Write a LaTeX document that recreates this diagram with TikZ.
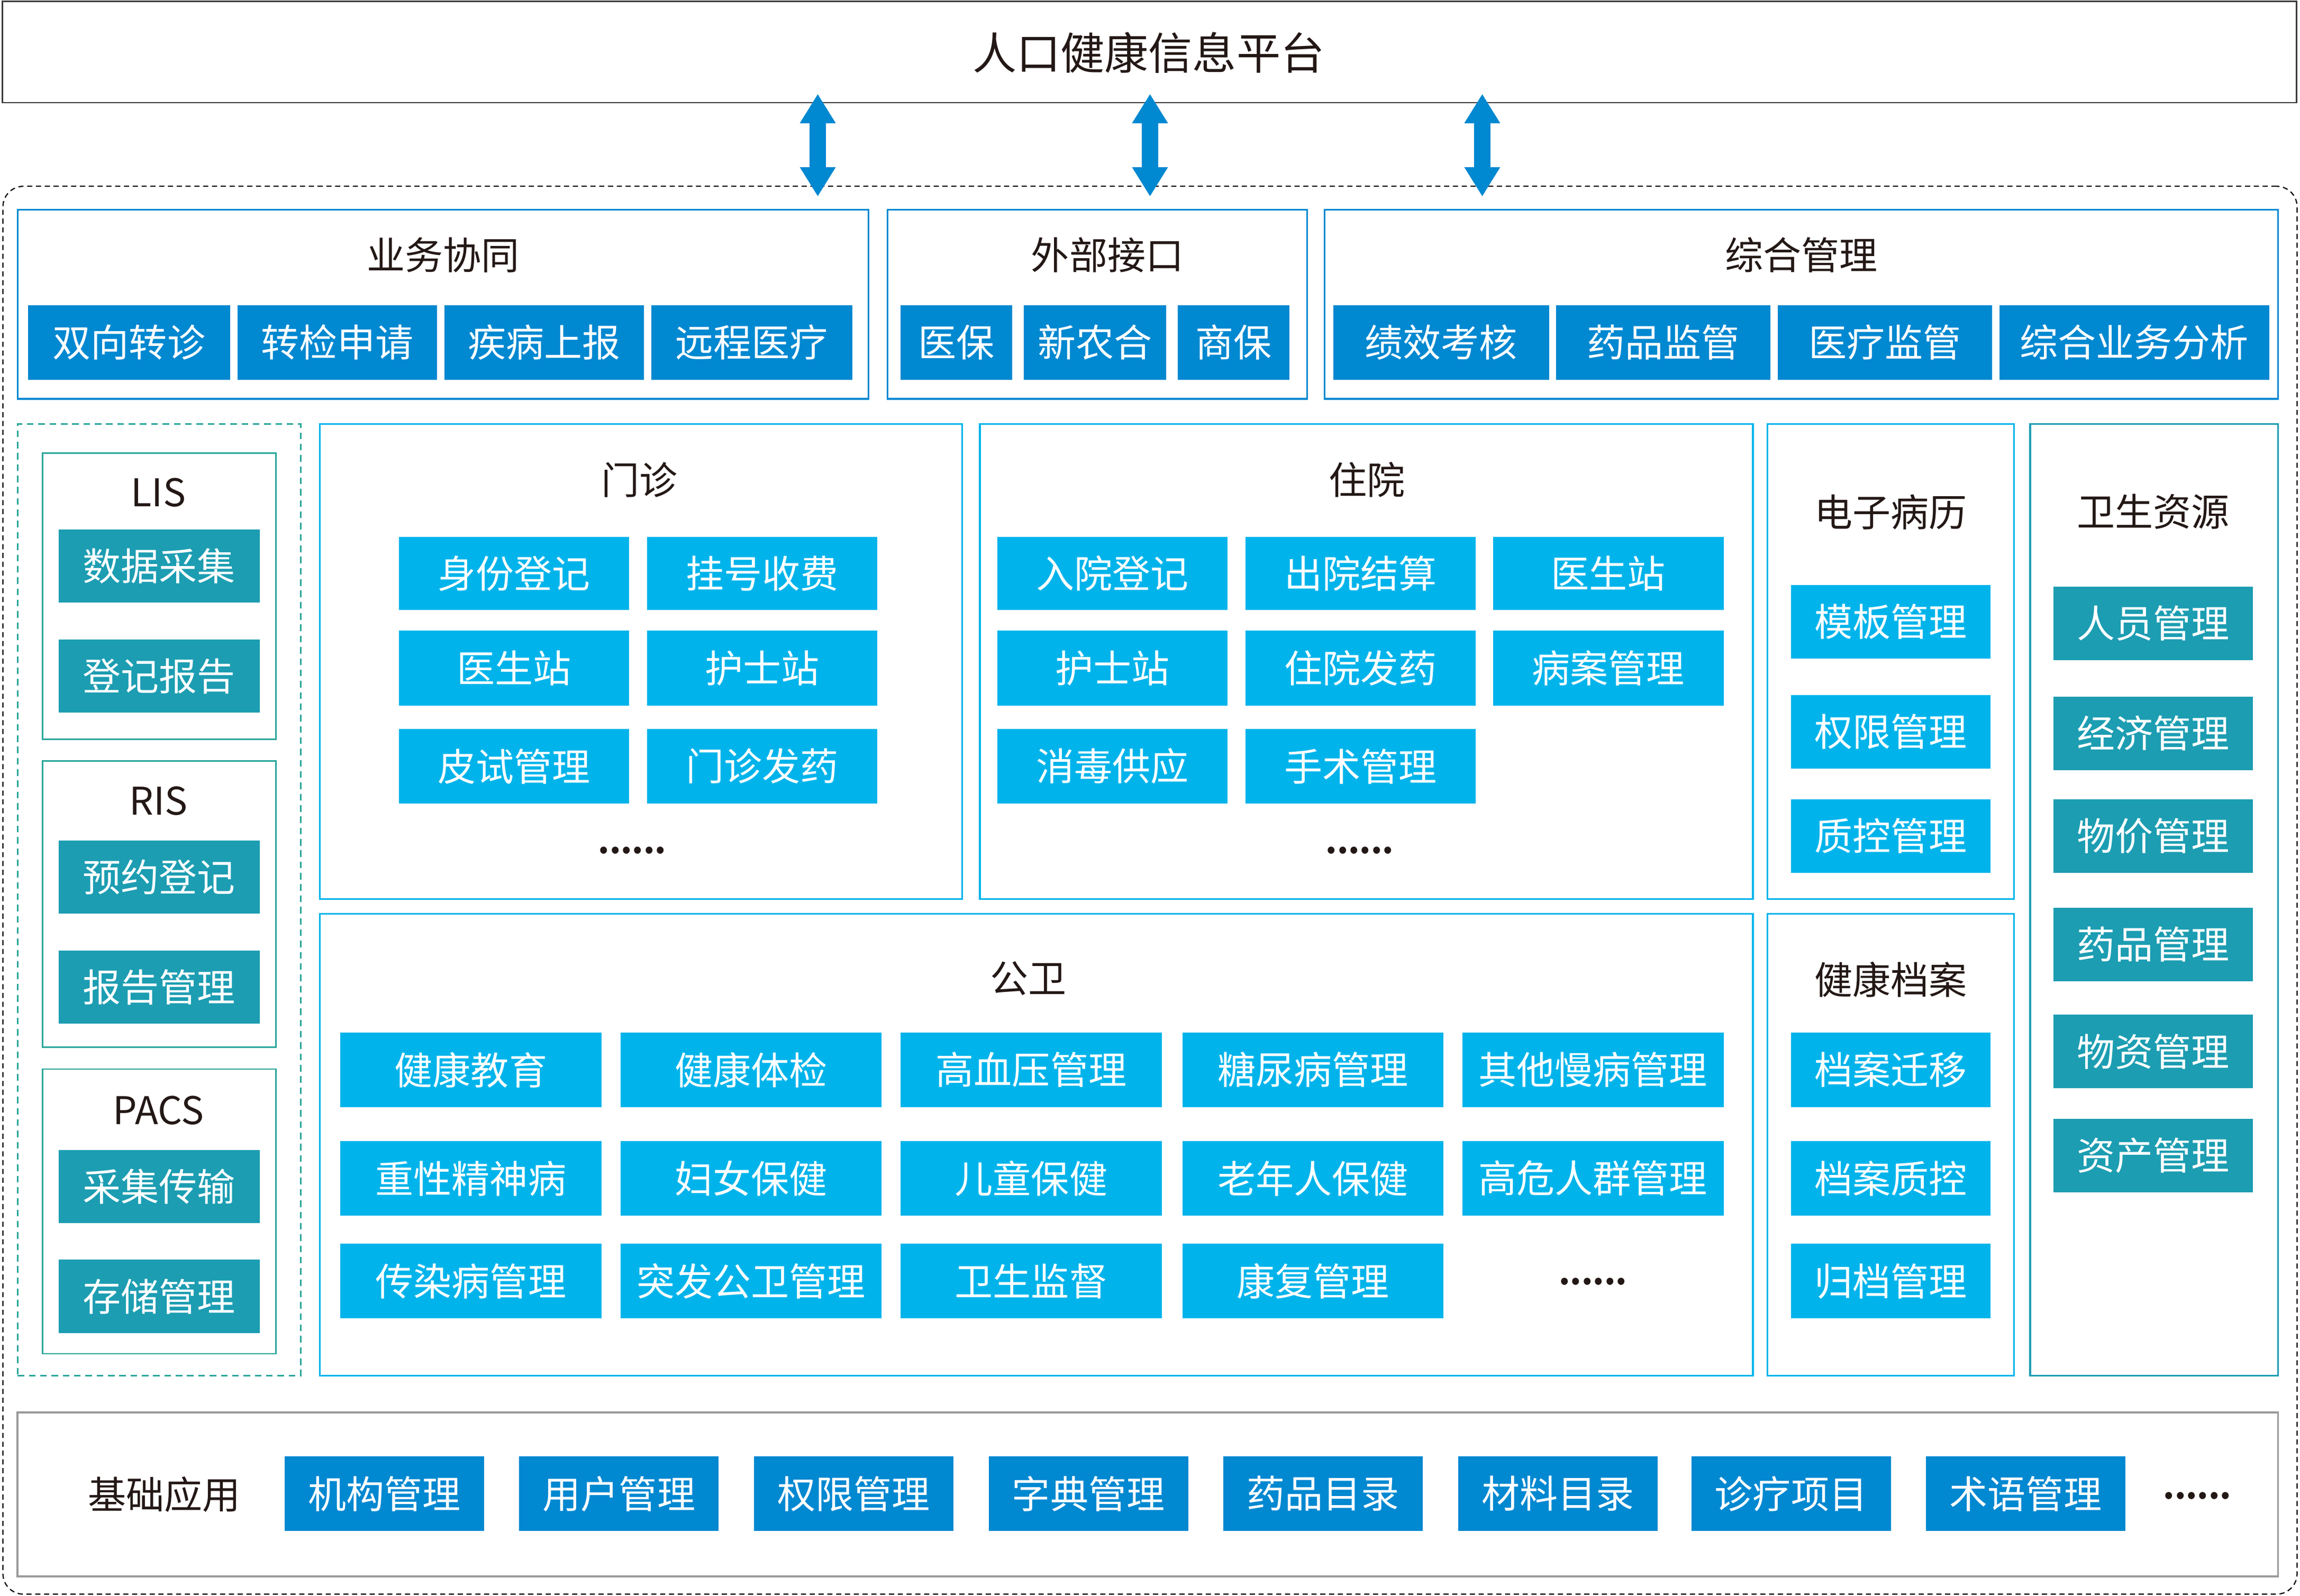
\documentclass[tikz,border=0pt]{standalone}
\usepackage{fontspec}
\setmainfont{Noto Sans CJK SC}
\usetikzlibrary{arrows.meta}
\definecolor{cDark}{HTML}{0088D1}
\definecolor{cCyan}{HTML}{00B4EB}
\definecolor{cTeal}{HTML}{1C9DB2}
\definecolor{cGreen}{HTML}{2AA69A}
\definecolor{cGray}{HTML}{9A9A9A}
\definecolor{cText}{HTML}{231815}
\definecolor{cFrame}{HTML}{3A3A3A}
\tikzset{
  itm/.style={rectangle,inner sep=0pt,outer sep=0pt,text=white,font=\fontsize{26}{30}\selectfont},
  grp/.style={rectangle,inner sep=0pt,outer sep=0pt,draw,line width=1.2pt},
  ttl/.style={inner sep=0pt,text=cText,font=\fontsize{26}{30}\selectfont},
  dots/.style={inner sep=0pt,text=cText,font=\bfseries\fontsize{22}{26}\selectfont},
  bigarrow/.style={draw=cDark,line width=11pt,{Triangle[length=20pt,width=23pt]}-{Triangle[length=20pt,width=23pt]}}
}
\newcommand\myitem[7]{\node[itm,fill=#6,minimum width={#4pt-#2pt},minimum height={#5pt-#3pt}] (#1) at ({(#2+#4)/2},{(#3+#5)/2}) {#7};}
\newcommand\mybox[6]{\node[grp,#6,minimum width={#4pt-#2pt},minimum height={#5pt-#3pt}] (#1) at ({(#2+#4)/2},{(#3+#5)/2}) {};}
\begin{document}
\begin{tikzpicture}[x=1pt,y=-1pt]
\useasboundingbox (0,0) rectangle (1568,1088);
% top platform
\node[rectangle,draw=cFrame,line width=1pt,inner sep=0pt,minimum width=1564pt,minimum height=69pt] (top) at (783.5,35.5) {};
\node[ttl,font=\fontsize{30}{34}\selectfont] (toptxt) at (783,36) {人口健康信息平台};
% outer dashed frame
\node[rectangle,draw=black,line width=0.8pt,dash pattern=on 3.5pt off 2.5pt,rounded corners=14pt,inner sep=0pt,minimum width=1564pt,minimum height=960pt] (outer) at (784,607) {};
% arrows
\coordinate (a1t) at (557.5,64); \coordinate (a1b) at (557.5,134);
\coordinate (a2t) at (784,64); \coordinate (a2b) at (784,134);
\coordinate (a3t) at (1010.5,64); \coordinate (a3b) at (1010.5,134);
\draw[bigarrow] (a1t) -- (a1b);
\draw[bigarrow] (a2t) -- (a2b);
\draw[bigarrow] (a3t) -- (a3b);
% 业务协同
\mybox{ywxt}{12}{143}{592}{272}{draw=cDark}
\node[ttl] (ywxtt) at (302,174) {业务协同};
\myitem{y1}{19}{208}{157}{259}{cDark}{双向转诊}
\myitem{y2}{162}{208}{298}{259}{cDark}{转检申请}
\myitem{y3}{303}{208}{439}{259}{cDark}{疾病上报}
\myitem{y4}{444}{208}{581}{259}{cDark}{远程医疗}
% 外部接口
\mybox{wbjk}{605}{143}{891}{272}{draw=cDark}
\node[ttl] (wbjkt) at (755,174) {外部接口};
\myitem{w1}{614}{208}{690}{259}{cDark}{医保}
\myitem{w2}{698}{208}{795}{259}{cDark}{新农合}
\myitem{w3}{803}{208}{879}{259}{cDark}{商保}
% 综合管理
\mybox{zhgl}{903}{143}{1553}{272}{draw=cDark}
\node[ttl] (zhglt) at (1228,174) {综合管理};
\myitem{z1}{909}{208}{1056}{259}{cDark}{绩效考核}
\myitem{z2}{1061}{208}{1207}{259}{cDark}{药品监管}
\myitem{z3}{1212}{208}{1358}{259}{cDark}{医疗监管}
\myitem{z4}{1363}{208}{1547}{259}{cDark}{综合业务分析}
% left group
\mybox{lgrp}{12}{289}{205}{938}{draw=cGreen,line width=1pt,dash pattern=on 4.5pt off 3.2pt}
\mybox{lis}{29}{309}{188}{504}{draw=cGreen,line width=1pt}
\node[ttl] (list) at (108,336) {LIS};
\myitem{l1}{40}{361}{177}{411}{cTeal}{数据采集}
\myitem{l2}{40}{436}{177}{486}{cTeal}{登记报告}
\mybox{ris}{29}{519}{188}{714}{draw=cGreen,line width=1pt}
\node[ttl] (rist) at (108,546) {RIS};
\myitem{r1}{40}{573}{177}{623}{cTeal}{预约登记}
\myitem{r2}{40}{648}{177}{698}{cTeal}{报告管理}
\mybox{pacs}{29}{729}{188}{923}{draw=cGreen,line width=1pt}
\node[ttl] (pacst) at (108,757) {PACS};
\myitem{p1}{40}{784}{177}{834}{cTeal}{采集传输}
\myitem{p2}{40}{859}{177}{909}{cTeal}{存储管理}
% 门诊
\mybox{mz}{218}{289}{656}{613}{draw=cCyan}
\node[ttl] (mzt) at (436,327) {门诊};
\myitem{m1}{272}{366}{429}{416}{cCyan}{身份登记}
\myitem{m2}{441}{366}{598}{416}{cCyan}{挂号收费}
\myitem{m3}{272}{430}{429}{481}{cCyan}{医生站}
\myitem{m4}{441}{430}{598}{481}{cCyan}{护士站}
\myitem{m5}{272}{497}{429}{548}{cCyan}{皮试管理}
\myitem{m6}{441}{497}{598}{548}{cCyan}{门诊发药}
\node[dots] (mzd) at (431,580) {......};
% 住院
\mybox{zy}{668}{289}{1195}{613}{draw=cCyan}
\node[ttl] (zyt) at (932,327) {住院};
\myitem{h1}{680}{366}{837}{416}{cCyan}{入院登记}
\myitem{h2}{849}{366}{1006}{416}{cCyan}{出院结算}
\myitem{h3}{1018}{366}{1175}{416}{cCyan}{医生站}
\myitem{h4}{680}{430}{837}{481}{cCyan}{护士站}
\myitem{h5}{849}{430}{1006}{481}{cCyan}{住院发药}
\myitem{h6}{1018}{430}{1175}{481}{cCyan}{病案管理}
\myitem{h7}{680}{497}{837}{548}{cCyan}{消毒供应}
\myitem{h8}{849}{497}{1006}{548}{cCyan}{手术管理}
\node[dots] (zyd) at (927,580) {......};
% 电子病历
\mybox{dzbl}{1205}{289}{1373}{613}{draw=cCyan}
\node[ttl] (dzblt) at (1289,349) {电子病历};
\myitem{e1}{1221}{399}{1357}{449}{cCyan}{模板管理}
\myitem{e2}{1221}{474}{1357}{524}{cCyan}{权限管理}
\myitem{e3}{1221}{545}{1357}{595}{cCyan}{质控管理}
% 卫生资源
\mybox{wszy}{1384}{289}{1553}{938}{draw=cTeal}
\node[ttl] (wszyt) at (1468,349) {卫生资源};
\myitem{s1}{1400}{400}{1536}{450}{cTeal}{人员管理}
\myitem{s2}{1400}{475}{1536}{525}{cTeal}{经济管理}
\myitem{s3}{1400}{545}{1536}{595}{cTeal}{物价管理}
\myitem{s4}{1400}{619}{1536}{669}{cTeal}{药品管理}
\myitem{s5}{1400}{692}{1536}{742}{cTeal}{物资管理}
\myitem{s6}{1400}{763}{1536}{813}{cTeal}{资产管理}
% 公卫
\mybox{gw}{218}{623}{1195}{938}{draw=cCyan}
\node[ttl] (gwt) at (701,667) {公卫};
\myitem{g1}{232}{704}{410}{755}{cCyan}{健康教育}
\myitem{g2}{423}{704}{601}{755}{cCyan}{健康体检}
\myitem{g3}{614}{704}{792}{755}{cCyan}{高血压管理}
\myitem{g4}{806}{704}{984}{755}{cCyan}{糖尿病管理}
\myitem{g5}{997}{704}{1175}{755}{cCyan}{其他慢病管理}
\myitem{g6}{232}{778}{410}{829}{cCyan}{重性精神病}
\myitem{g7}{423}{778}{601}{829}{cCyan}{妇女保健}
\myitem{g8}{614}{778}{792}{829}{cCyan}{儿童保健}
\myitem{g9}{806}{778}{984}{829}{cCyan}{老年人保健}
\myitem{g10}{997}{778}{1175}{829}{cCyan}{高危人群管理}
\myitem{g11}{232}{848}{410}{899}{cCyan}{传染病管理}
\myitem{g12}{423}{848}{601}{899}{cCyan}{突发公卫管理}
\myitem{g13}{614}{848}{792}{899}{cCyan}{卫生监督}
\myitem{g14}{806}{848}{984}{899}{cCyan}{康复管理}
\node[dots] (gwd) at (1086,874) {......};
% 健康档案
\mybox{jkda}{1205}{623}{1373}{938}{draw=cCyan}
\node[ttl] (jkdat) at (1289,668) {健康档案};
\myitem{k1}{1221}{704}{1357}{755}{cCyan}{档案迁移}
\myitem{k2}{1221}{778}{1357}{829}{cCyan}{档案质控}
\myitem{k3}{1221}{848}{1357}{899}{cCyan}{归档管理}
% 基础应用
\mybox{jcyy}{12}{963}{1553}{1075}{draw=cGray,line width=1.4pt}
\node[ttl] (jcyyt) at (112,1019) {基础应用};
\myitem{b1}{194}{993}{330}{1044}{cDark}{机构管理}
\myitem{b2}{354}{993}{490}{1044}{cDark}{用户管理}
\myitem{b3}{514}{993}{650}{1044}{cDark}{权限管理}
\myitem{b4}{674}{993}{810}{1044}{cDark}{字典管理}
\myitem{b5}{834}{993}{970}{1044}{cDark}{药品目录}
\myitem{b6}{994}{993}{1130}{1044}{cDark}{材料目录}
\myitem{b7}{1153}{993}{1289}{1044}{cDark}{诊疗项目}
\myitem{b8}{1313}{993}{1449}{1044}{cDark}{术语管理}
\node[dots] (jcd) at (1498,1020) {......};
\end{tikzpicture}
\end{document}
